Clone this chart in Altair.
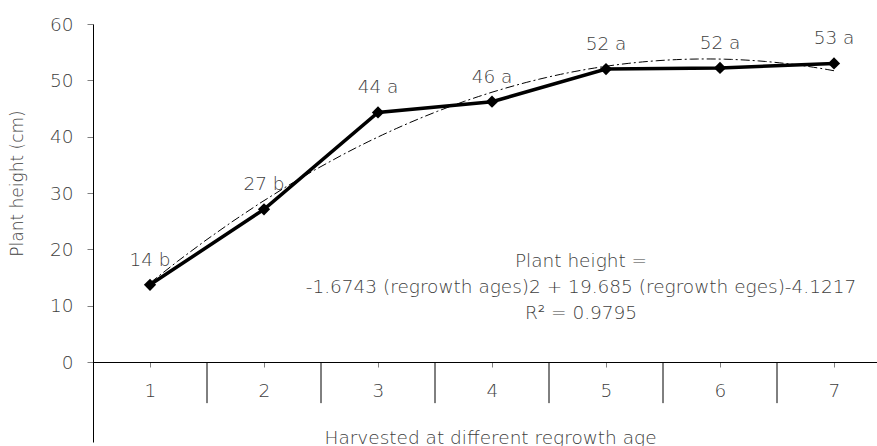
import altair as alt
import pandas as pd

# Plant height by regrowth age, with significance letters
ages = [1, 2, 3, 4, 5, 6, 7]
heights = [13.7, 27.1, 44.3, 46.2, 52.0, 52.2, 53.0]
letters = ["b", "b", "a", "a", "a", "a", "a"]
y_ticks = [0, 10, 20, 30, 40, 50, 60]
band_edges = [1.5, 2.5, 3.5, 4.5, 5.5, 6.5]
equation_lines = [
    "Plant height =",
    "-1.6743 (regrowth ages)2 + 19.685 (regrowth eges)-4.1217",
    "R\u00b2 = 0.9795",
]

FONT = "DejaVu Sans"
WEIGHT = 200
FS = 18.5
TEXT_COLOR = "#404040"
PLOT_W = 784
PLOT_H = 418
BAND = 114
X_MAX = 0.5 + PLOT_W / BAND
Y_MIN = -14.2

df = pd.DataFrame({"age": ages, "height": heights, "letter": letters})
df["label"] = [f"{int(round(h))} {l}" for h, l in zip(heights, letters)]
edges = pd.DataFrame({"edge": band_edges})

x_scale = alt.Scale(domain=[0.5, X_MAX], nice=False, zero=False)
y_scale = alt.Scale(domain=[Y_MIN, 60], nice=False, zero=False)

x_enc = alt.X(
    "age:Q",
    scale=x_scale,
    axis=alt.Axis(
        values=ages,
        format="d",
        offset=-80,
        grid=False,
        tickSize=5,
        tickColor="#808080",
        domainColor="#000000",
        labelPadding=14,
        labelFontSize=FS,
        labelFont=FONT,
        labelFontWeight=WEIGHT,
        labelColor=TEXT_COLOR,
        title="Harvested at different regrowth age",
        titleFont=FONT,
        titleFontWeight=WEIGHT,
        titleFontSize=FS,
        titleColor=TEXT_COLOR,
        titleX=397,
        titleY=75,
        titleAlign="center",
        titleBaseline="middle",
    ),
)
y_enc = alt.Y(
    "height:Q",
    scale=y_scale,
    axis=alt.Axis(
        values=y_ticks,
        grid=False,
        tickSize=6,
        tickColor="#808080",
        domainColor="#000000",
        labelPadding=14,
        labelFontSize=FS,
        labelFont=FONT,
        labelFontWeight=WEIGHT,
        labelColor=TEXT_COLOR,
        title="Plant height (cm)",
        titleFont=FONT,
        titleFontWeight=WEIGHT,
        titleFontSize=17,
        titleColor=TEXT_COLOR,
        titleAngle=270,
        titleX=-76,
        titleY=159,
        titleAlign="center",
        titleBaseline="middle",
    ),
)

base = alt.Chart(df)

line = base.mark_line(color="#000000", strokeWidth=3.5).encode(x=x_enc, y=y_enc)
points = base.mark_point(
    shape="diamond", filled=True, color="#000000", size=150, opacity=1
).encode(x="age:Q", y="height:Q")

trend = (
    base.transform_regression(
        "age", "height", method="poly", order=2, extent=[1, 7]
    )
    .mark_line(color="#000000", strokeWidth=1, strokeDash=[9, 3, 2, 3])
    .encode(x="age:Q", y="height:Q")
)

labels = base.mark_text(
    dy=-25, fontSize=FS, font=FONT, fontWeight=WEIGHT, color=TEXT_COLOR
).encode(x="age:Q", y="height:Q", text="label:N")

separators = (
    alt.Chart(edges)
    .mark_rule(color="#000000", strokeWidth=1)
    .encode(x="edge:Q", y=alt.datum(0), y2=alt.datum(-7.3))
)

equation = (
    alt.Chart(pd.DataFrame({"t": [0]}))
    .mark_text(
        fontSize=FS,
        font=FONT,
        fontWeight=WEIGHT,
        color=TEXT_COLOR,
        align="center",
        baseline="middle",
        lineHeight=26,
    )
    .encode(x=alt.value(488), y=alt.value(237), text=alt.value(equation_lines))
)

chart = (
    alt.layer(separators, trend, line, points, labels, equation)
    .properties(
        width=PLOT_W,
        height=PLOT_H,
        autosize=alt.AutoSizeParams(type="none"),
        padding={"left": 93, "top": 24, "right": 0, "bottom": 4},
        background="#ffffff",
    )
    .configure_view(stroke=None)
)

chart.save("out.html", embed_options={"renderer": "svg", "actions": False})
